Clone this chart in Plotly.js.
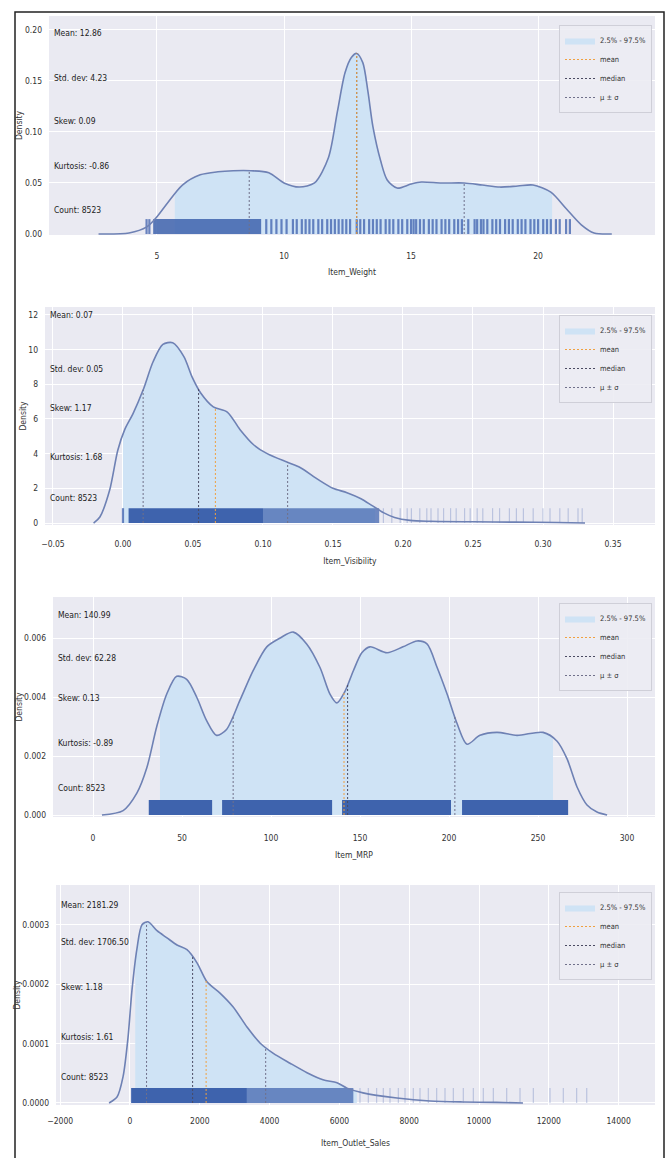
<!DOCTYPE html>
<html><head><meta charset="utf-8">
<script src="https://cdn.plot.ly/plotly-3.0.1.min.js"></script>
<style>html,body{margin:0;padding:0;background:#fff}#chart{width:668px;height:1158px}</style>
</head><body><div id="chart"></div>
<script>
// ---------------- data ----------------
const statNames = ["Mean", "Std. dev", "Skew", "Kurtosis", "Count"];
const legendNames = ["2.5% - 97.5%", "mean", "median", "μ ± σ"];
const axisTitles = ["Item_Weight", "Item_Visibility", "Item_MRP", "Item_Outlet_Sales"];

// Item_Weight
const weightX = [2.7, 3.9, 4.6, 5.0, 5.4, 6.0, 6.7, 7.4, 8.0, 8.7, 9.4, 10.0, 10.6, 11.2, 11.75, 12.1, 12.4, 12.65, 12.86, 13.1, 13.3, 13.5, 13.8, 14.06, 14.45, 15.0, 15.4, 16.2, 17.1, 17.8, 18.5, 19.2, 19.8, 20.5, 21.1, 21.7, 22.2, 22.9];
const weightY = [0, 0.001, 0.007, 0.017, 0.030, 0.048, 0.058, 0.061, 0.062, 0.062, 0.060, 0.050, 0.046, 0.050, 0.075, 0.120, 0.158, 0.173, 0.177, 0.168, 0.140, 0.105, 0.072, 0.053, 0.045, 0.049, 0.051, 0.050, 0.050, 0.048, 0.046, 0.047, 0.048, 0.041, 0.025, 0.009, 0.001, 0];
const weightStats = [12.86, 4.23, 0.09, -0.86, 8523];
const weightMean = 12.86, weightStd = 4.23, weightMedian = 12.86;
const weightQuantiles = [5.7, 20.55];
const weightRugDense = [];
const weightRugMid = [[4.85, 9.1]];
const weightRugLines = [4.59, 4.7, 9.3, 9.5, 9.7, 9.9, 10.1, 10.35, 10.5, 10.7, 10.85, 11.0, 11.15, 11.35, 11.5, 11.7, 11.85, 12.0, 12.15, 12.3, 12.45, 12.6, 12.86, 13.0, 13.15, 13.35, 13.5, 13.65, 13.8, 14.0, 14.15, 14.3, 14.5, 14.65, 14.85, 15.0, 15.1, 15.2, 15.35, 15.5, 15.7, 15.85, 16.0, 16.2, 16.35, 16.5, 16.7, 16.85, 17.0, 17.25, 17.5, 17.6, 17.75, 17.85, 18.0, 18.2, 18.35, 18.5, 18.7, 18.85, 19.0, 19.2, 19.35, 19.5, 19.7, 19.85, 20.0, 20.2, 20.35, 20.5, 20.7, 20.85, 21.1, 21.25];
const weightRugFaint = [];

// Item_Visibility
const visX = [-0.021, -0.0165, -0.0095, -0.0037, 0.0013, 0.0071, 0.0145, 0.0215, 0.0285, 0.0355, 0.0435, 0.0495, 0.0555, 0.0645, 0.0745, 0.0835, 0.0935, 0.103, 0.1175, 0.1265, 0.1395, 0.150, 0.160, 0.170, 0.178, 0.186, 0.194, 0.205, 0.22, 0.25, 0.28, 0.31, 0.33];
const visY = [0, 0.35, 1.9, 4.2, 5.4, 6.3, 7.7, 9.3, 10.3, 10.4, 9.6, 8.4, 7.5, 6.7, 6.4, 5.4, 4.5, 4.0, 3.5, 3.2, 2.5, 2.0, 1.75, 1.4, 1.0, 0.6, 0.32, 0.15, 0.1, 0.07, 0.05, 0.03, 0];
const visStats = [0.07, 0.05, 1.17, 1.68, 8523];
const visMean = 0.066, visStd = 0.0516, visMedian = 0.054;
const visQuantiles = [0.0, 0.18];
const visRugDense = [[0.004, 0.10]];
const visRugMid = [[0.10, 0.183]];
const visRugLines = [0.0];
const visRugFaint = [0.186, 0.192, 0.198, 0.203, 0.206, 0.212, 0.217, 0.220, 0.225, 0.229, 0.234, 0.238, 0.244, 0.248, 0.253, 0.257, 0.264, 0.269, 0.276, 0.281, 0.286, 0.293, 0.300, 0.305, 0.312, 0.318, 0.325, 0.328];

// Item_MRP
const mrpX = [5, 16.9, 24.6, 30.2, 35.8, 41.4, 47.0, 52.6, 58.2, 63.8, 69.4, 75.0, 82.6, 90.0, 97.6, 105.1, 112.5, 120.0, 127.5, 133.1, 137.0, 141.6, 146.3, 151.0, 155.6, 165.2, 174.1, 182.0, 187.6, 193.3, 198.9, 204.5, 210.1, 217.4, 226.9, 238.2, 252.8, 260.7, 266.3, 271.9, 277.5, 283.1, 288.8];
const mrpY = [0, 0.00015, 0.00074, 0.0016, 0.0030, 0.0041, 0.0047, 0.0046, 0.0040, 0.0032, 0.0027, 0.0029, 0.0039, 0.0049, 0.0057, 0.0060, 0.0062, 0.0058, 0.0050, 0.0041, 0.0038, 0.0042, 0.0049, 0.0055, 0.0057, 0.0055, 0.0057, 0.0059, 0.0058, 0.0050, 0.0041, 0.0031, 0.0024, 0.0027, 0.0028, 0.0027, 0.0028, 0.0025, 0.0019, 0.00095, 0.00034, 0.0001, 0];
const mrpStats = [140.99, 62.28, 0.13, -0.89, 8523];
const mrpMean = 140.99, mrpStd = 62.28, mrpMedian = 143.01;
const mrpQuantiles = [37.6, 258.4];
const mrpRugDense = [[31.3, 66.9], [72.5, 134.3], [139.9, 201.1], [207.3, 266.9]];
const mrpRugMid = [];
const mrpRugLines = [];
const mrpRugFaint = [];

// Item_Outlet_Sales
const salesX = [-600, -372, -200, -57, 57, 200, 344, 516, 774, 1060, 1347, 1633, 1920, 2206, 2579, 2951, 3352, 3725, 4097, 4585, 5072, 5530, 5931, 6218, 6676, 7650, 8596, 9540, 10500, 11260];
const salesY = [0, 0.00001, 0.000044, 0.00011, 0.00019, 0.00026, 0.0003, 0.000305, 0.00029, 0.000278, 0.000266, 0.000258, 0.000236, 0.000204, 0.000185, 0.000162, 0.000128, 0.000101, 0.000084, 0.000067, 0.000051, 0.000039, 0.000034, 0.000025, 0.000017, 0.0000084, 0.0000034, 0.0000017, 0.000001, 0];
const salesStats = [2181.29, 1706.50, 1.18, 1.61, 8523];
const salesMean = 2181.29, salesStd = 1706.50, salesMedian = 1794.33;
const salesQuantiles = [150, 6500];
const salesRugDense = [[33, 3350]];
const salesRugMid = [[3350, 6400]];
const salesRugLines = [];
const salesRugFaint = [6590, 6829, 7067, 7259, 7450, 7689, 7880, 8118, 8309, 8548, 8787, 9026, 9265, 9551, 9838, 10124, 10411, 10793, 11175, 11557, 12034, 12416, 12798, 13087];

// ---------------- layout config ----------------
const W = 668, H = 1158;
const FONT = '"Liberation Sans Narrow", "DejaVu Sans Condensed", "Roboto Condensed", "Liberation Sans", Arial, sans-serif';
const series = [
  {x: weightX, y: weightY, stats: weightStats, mean: weightMean, std: weightStd, median: weightMedian, q: weightQuantiles, dense: weightRugDense, mid: weightRugMid, lines: weightRugLines, faint: weightRugFaint},
  {x: visX, y: visY, stats: visStats, mean: visMean, std: visStd, median: visMedian, q: visQuantiles, dense: visRugDense, mid: visRugMid, lines: visRugLines, faint: visRugFaint},
  {x: mrpX, y: mrpY, stats: mrpStats, mean: mrpMean, std: mrpStd, median: mrpMedian, q: mrpQuantiles, dense: mrpRugDense, mid: mrpRugMid, lines: mrpRugLines, faint: mrpRugFaint},
  {x: salesX, y: salesY, stats: salesStats, mean: salesMean, std: salesStd, median: salesMedian, q: salesQuantiles, dense: salesRugDense, mid: salesRugMid, lines: salesRugLines, faint: salesRugFaint}
];
const panels = [
  {top: 16, bottom: 235, left: 49, right: 655, xr: [0.75, 24.6], yr: [-0.00098, 0.2137], xd: 5, xf: '', yd: 0.05, yf: '.2f', xs: 14, ts: 9, stat: [33, 78, 121, 166, 210], leg: 25},
  {top: 307, bottom: 525, left: 45, right: 655, xr: [-0.0557, 0.380], yr: [-0.115, 12.46], xd: 0.05, xf: '.2f', yd: 2, yf: 'd', xs: 12, ts: 10, stat: [315, 369, 408, 457, 498], leg: 315},
  {top: 597, bottom: 817, left: 53, right: 655, xr: [-22.5, 315.7], yr: [-0.0000678, 0.00739], xd: 50, xf: 'd', yd: 0.002, yf: '.3f', xs: 14, ts: 10, stat: [615, 658, 698, 743, 788], leg: 603},
  {top: 885, bottom: 1105, left: 56, right: 655, xr: [-2120, 15043], yr: [-0.0000034, 0.000367], xd: 2000, xf: 'd', yd: 0.0001, yf: '.4f', xs: 9, ts: 15, stat: [905, 942, 987, 1037, 1077], leg: 892}
];
const fx = p => p / W, fy = p => 1 - p / H;

function interp(xs, ys, v) {
  if (v <= xs[0]) return ys[0];
  for (let i = 1; i < xs.length; i++) {
    if (v <= xs[i]) { const t = (v - xs[i-1]) / (xs[i] - xs[i-1]); return ys[i-1] + t * (ys[i] - ys[i-1]); }
  }
  return ys[ys.length - 1];
}

const traces = [];
const layout = {
  width: W, height: H, margin: {l: 0, r: 0, t: 0, b: 0},
  paper_bgcolor: '#ffffff', plot_bgcolor: '#eaeaf2', showlegend: true,
  font: {family: FONT, size: 8.5, color: '#333'},
  annotations: [], shapes: [
    {type: 'rect', xref: 'paper', yref: 'paper', x0: fx(15), x1: fx(664), y0: fy(12), y1: -0.02, line: {color: '#222', width: 1.5}, layer: 'above'}
  ]
};

series.forEach((s, i) => {
  const p = panels[i];
  const n = i === 0 ? '' : String(i + 1);
  const xa = 'x' + n, ya = 'y' + n, lg = 'legend' + n;
  const rugTop = 0.068 * (p.yr[1] - p.yr[0]);

  // quantile fill region
  const fxs = [s.q[0]], fys = [interp(s.x, s.y, s.q[0])];
  s.x.forEach((v, k) => { if (v > s.q[0] && v < s.q[1]) { fxs.push(v); fys.push(s.y[k]); } });
  fxs.push(s.q[1]); fys.push(interp(s.x, s.y, s.q[1]));
  traces.push({x: fxs, y: fys, xaxis: xa, yaxis: ya, type: 'scatter', mode: 'lines', fill: 'tozeroy',
    fillcolor: 'rgb(207,227,245)', line: {width: 0, shape: 'spline', smoothing: 0.8}, name: legendNames[0],
    legend: lg, legendrank: 1, hoverinfo: 'skip'});

  // rug bands
  const band = (arr, color) => {
    if (!arr.length) return;
    const bx = [], by = [];
    arr.forEach(([a, b]) => { bx.push(a, a, b, b, a, null); by.push(0, rugTop, rugTop, 0, 0, null); });
    traces.push({x: bx, y: by, xaxis: xa, yaxis: ya, type: 'scatter', mode: 'lines', fill: 'toself',
      fillcolor: color, line: {width: 0}, showlegend: false, hoverinfo: 'skip'});
  };
  band(s.dense, '#3e63ad');
  band(s.mid, i === 0 ? 'rgba(62,99,173,0.85)' : 'rgba(62,99,173,0.72)');
  const rug = (arr, color, w) => {
    if (!arr.length) return;
    const rx = [], ry = [];
    arr.forEach(v => { rx.push(v, v, null); ry.push(0, rugTop, null); });
    traces.push({x: rx, y: ry, xaxis: xa, yaxis: ya, type: 'scatter', mode: 'lines',
      line: {color: color, width: w}, showlegend: false, hoverinfo: 'skip'});
  };
  rug(s.lines, 'rgba(60,95,172,0.75)', 2.2);
  rug(s.faint, 'rgba(80,105,180,0.3)', 1.2);

  // KDE curve
  traces.push({x: s.x, y: s.y, xaxis: xa, yaxis: ya, type: 'scatter', mode: 'lines',
    line: {color: '#6e81b4', width: 1.6, shape: 'spline', smoothing: 0.8}, showlegend: false, hoverinfo: 'skip'});

  // mean, median and mu +- sigma lines, drawn up to the curve
  const vline = (vals, color, name, rank) => {
    const vx = [], vy = [];
    vals.forEach(v => { vx.push(v, v, null); vy.push(0, interp(s.x, s.y, v), null); });
    traces.push({x: vx, y: vy, xaxis: xa, yaxis: ya, type: 'scatter', mode: 'lines',
      line: {color: color, width: 1, dash: '2px,2px'}, name: name, legend: lg, legendrank: rank, hoverinfo: 'skip'});
  };
  vline([s.mean - s.std, s.mean + s.std], '#70708a', legendNames[3], 4);
  vline([s.median], '#4a4a62', legendNames[2], 3);
  vline([s.mean], '#f0a040', legendNames[1], 2);

  // axes
  layout['xaxis' + n] = {
    domain: [fx(p.left), fx(p.right)], range: p.xr, anchor: ya, dtick: p.xd, tick0: 0,
    tickformat: p.xf, showgrid: true, gridcolor: '#ffffff', gridwidth: 1, zeroline: false, showline: false,
    ticks: '', ticklabelstandoff: p.xs, automargin: false, tickfont: {size: 8.5, color: '#333'},
    title: {text: axisTitles[i], standoff: p.ts, font: {size: 8.5, color: '#333'}}
  };
  layout['yaxis' + n] = {
    domain: [fy(p.bottom), fy(p.top)], range: p.yr, anchor: xa, dtick: p.yd, tick0: 0,
    tickformat: p.yf, showgrid: true, gridcolor: '#ffffff', gridwidth: 1, zeroline: false, showline: false,
    ticks: '', ticklabelstandoff: 6, automargin: false, tickfont: {size: 8.5, color: '#333'},
    title: {text: 'Density', standoff: 0, font: {size: 8.5, color: '#333'}}
  };

  // legend
  layout[lg] = {
    x: fx(652), xanchor: 'right', y: fy(p.leg), yanchor: 'top', xref: 'paper', yref: 'paper',
    bgcolor: 'rgba(236,236,243,0.9)', bordercolor: '#cfcfd8', borderwidth: 1,
    font: {size: 7.5, color: '#333', family: FONT}, itemwidth: 30, tracegroupgap: 0
  };

  // stats text
  s.stats.forEach((v, k) => {
    const txt = statNames[k] + ': ' + (k === 4 ? String(v) : v.toFixed(2));
    layout.annotations.push({text: txt, xref: 'paper', yref: 'paper', x: fx(p.left + 3), y: fy(p.stat[k]),
      xanchor: 'left', yanchor: 'middle', showarrow: false, font: {size: 8.5, color: '#222', family: FONT}});
  });
});

Plotly.newPlot('chart', traces, layout, {staticPlot: true, displayModeBar: false});
</script>
</body></html>
